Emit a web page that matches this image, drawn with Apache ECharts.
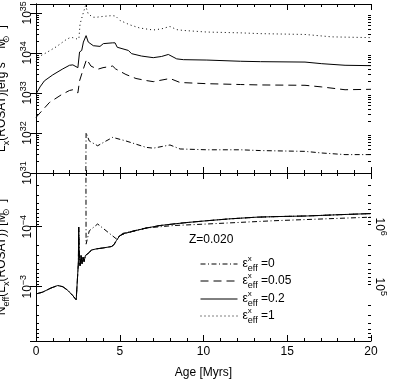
<!DOCTYPE html>
<html><head><meta charset="utf-8">
<script src="https://cdn.jsdelivr.net/npm/echarts@6/dist/echarts.min.js"></script>
<style>html,body{margin:0;padding:0;background:#fff}#c{width:397px;height:379px}</style>
</head><body><div id="c"></div>
<script>
// ---------- DATA ----------
const seriesNames = ['ε=0', 'ε=0.05', 'ε=0.2', 'ε=1'];
const xTicks = [0, 5, 10, 15, 20];

// Upper panel: Lx(ROSAT) [erg s^-1 Msun^-1]
const ageLxEff0   = [2.97, 2.99, 3.18, 3.68, 4.1, 4.58, 5.37, 6.57, 7.0, 8.0, 8.6, 10.2, 12.2, 13.4, 16.06, 17.06, 18.45, 20];
const lxEff0      = [3.16e30, 1.02e32, 6.31e31, 4.79e31, 6.03e31, 7.76e31, 6.31e31, 4.37e31, 4.17e31, 5.01e31, 3.98e31, 3.8e31, 3.8e31, 3.63e31, 3.47e31, 3.16e31, 2.88e31, 2.88e31];

const ageLxEff005 = [0, 0.8, 1.5, 2.0, 2.2, 2.5, 2.56, 2.6, 2.79, 3.02, 3.28, 3.68, 4.0, 4.58, 4.75, 5.37, 5.97, 6.57, 7.0, 8.0, 8.6, 10.2, 12.2, 13.4, 16.06, 17.06, 18.45, 20];
const lxEff005    = [2.45e32, 5.75e32, 8.91e32, 1.15e33, 1.2e33, 1.0e33, 1.0e33, 2.0e33, 3.55e33, 6.92e33, 4.68e33, 3.89e33, 4.27e33, 4.68e33, 3.98e33, 2.88e33, 2.29e33, 2.04e33, 1.91e33, 2.29e33, 1.82e33, 1.7e33, 1.62e33, 1.58e33, 1.55e33, 1.41e33, 1.2e33, 1.23e33];

const ageLxEff02  = [0, 0.24, 0.5, 1.0, 1.6, 2.0, 2.2, 2.5, 2.56, 2.6, 2.73, 2.83, 2.99, 3.12, 3.42, 3.82, 4.02, 4.3, 4.58, 4.72, 4.85, 5.51, 5.71, 6.3, 7.0, 7.5, 7.9, 8.4, 8.8, 10.2, 12.2, 13.4, 16.06, 17.06, 18.45, 20];
const lxEff02     = [9.33e32, 1.41e33, 2.0e33, 2.82e33, 3.98e33, 4.9e33, 5.01e33, 4.27e33, 4.27e33, 1.05e34, 1.15e34, 1.86e34, 2.69e34, 1.86e34, 1.51e34, 1.45e34, 1.7e34, 1.74e34, 1.78e34, 1.78e34, 1.38e34, 1.15e34, 9.55e33, 8.32e33, 7.59e33, 8.13e33, 9.12e33, 7.08e33, 6.76e33, 6.61e33, 6.17e33, 6.03e33, 5.89e33, 5.37e33, 4.9e33, 4.79e33];

const ageLxEff1   = [0, 0.24, 0.6, 1.2, 1.8, 2.03, 2.2, 2.43, 2.56, 2.63, 2.83, 2.96, 3.12, 3.4, 3.62, 4.0, 4.52, 4.75, 5.01, 5.6, 6.2, 7.0, 7.5, 8.0, 8.4, 8.8, 10.2, 12.2, 13.4, 16.06, 17.65, 20];
const lxEff1      = [6.17e33, 8.32e33, 1.0e34, 1.41e34, 2.14e34, 2.4e34, 2.4e34, 2.24e34, 2.24e34, 5.25e34, 1.02e35, 1.51e35, 9.33e34, 7.76e34, 7.76e34, 8.13e34, 8.51e34, 8.32e34, 6.46e34, 5.01e34, 4.17e34, 3.72e34, 3.98e34, 4.57e34, 3.8e34, 3.63e34, 3.31e34, 3.16e34, 3.02e34, 2.88e34, 2.51e34, 2.4e34];

// Lower panel: Neff(Lx(ROSAT)) [Msun^-1]
const ageNeffEff0 = [2.98, 2.99, 3.18, 3.68, 4.78, 5.18, 6.57, 8.2, 10.2, 14.2, 20];
const neffEff0    = [1.0e-5, 1.95e-4, 1.17e-4, 9.0e-5, 1.58e-4, 1.29e-4, 1.05e-4, 9.55e-5, 9.0e-5, 7.94e-5, 6.92e-5];

const ageNeff     = [0, 0.4, 0.9, 1.3, 1.6, 1.9, 2.2, 2.4, 2.5, 2.53, 2.55, 2.58, 2.63, 2.69, 2.75, 2.81, 2.87, 2.95, 3.03, 3.18, 3.3, 3.6, 4.0, 4.5, 4.65, 4.8, 5.0, 5.3, 5.6, 6.0, 6.6, 7.4, 8.2, 9.0, 10.2, 11.5, 13.2, 14.5, 16.2, 18.0, 20.0];
const neffEff02   = [1.32e-3, 1.23e-3, 1.05e-3, 9.55e-4, 1.0e-3, 1.15e-3, 1.41e-3, 1.66e-3, 1.62e-3, 3.98e-4, 1.02e-4, 2.51e-4, 4.47e-4, 3.02e-4, 4.17e-4, 3.24e-4, 3.8e-4, 3.02e-4, 3.24e-4, 2.69e-4, 2.45e-4, 2.34e-4, 2.26e-4, 2.14e-4, 2.0e-4, 1.7e-4, 1.41e-4, 1.29e-4, 1.23e-4, 1.15e-4, 1.05e-4, 9.55e-5, 9.0e-5, 8.51e-5, 7.94e-5, 7.41e-5, 6.92e-5, 6.76e-5, 6.61e-5, 6.31e-5, 6.03e-5];
const neffEff005  = neffEff02;  // curves coincide in the reference
const neffEff1    = neffEff02;

// axis ranges
const lxMin = 1e31, lxMax = 1.66e35;
const neffMin = 1.27e-5, neffMax = 8.04e-3;
const mMin = 1.245e4, mMax = 7.85e6;

// ---------- helpers ----------
const FONT = '"Liberation Sans", Arial, Helvetica, sans-serif';
const BLACK = '#000';
const pairs = (xs, ys) => xs.map((x, i) => [x, ys[i]]);
function minorList(lo, hi) {
  const out = [];
  for (let e = Math.floor(Math.log10(lo)) - 1; e <= Math.ceil(Math.log10(hi)); e++) {
    for (let m = 2; m <= 9; m++) { const v = m * Math.pow(10, e); if (v > lo && v < hi) out.push([0, v]); }
  }
  return out;
}
function powLabel(v) {
  const e = Math.log10(v), r = Math.round(e);
  if (Math.abs(e - r) > 1e-6) return '';
  return '{b|10}{s|' + (r < 0 ? '−' + (-r) : r) + '}';
}
const labelRich = {
  b: { fontSize: 12, fontFamily: FONT, color: BLACK, verticalAlign: 'bottom' },
  s: { fontSize: 9, fontFamily: FONT, color: BLACK, verticalAlign: 'top', padding: [0, 0, 6, 0] }
};
const nameRich = {
  n: { fontSize: 12, fontFamily: FONT, color: BLACK, lineHeight: 18 },
  sb: { fontSize: 9, fontFamily: FONT, color: BLACK, verticalAlign: 'bottom' },
  sbz: { fontSize: 9, fontFamily: FONT, color: BLACK, verticalAlign: 'bottom', width: 0 },
  sp: { fontSize: 9, fontFamily: FONT, color: BLACK, verticalAlign: 'top' }
};
const axLine = { show: true, lineStyle: { color: BLACK, width: 1 } };
function xAx(grid, pos, labels) {
  const a = {
    type: 'value', gridIndex: grid, position: pos, min: 0, max: 20, interval: 5,
    axisLine: axLine, splitLine: { show: false },
    axisTick: { show: true, inside: true, length: 6, lineStyle: { color: BLACK } },
    minorTick: { show: true, splitNumber: 5, length: 3, lineStyle: { color: BLACK } },
    axisLabel: { show: labels, margin: 5, fontSize: 12, fontFamily: FONT, color: BLACK }
  };
  if (labels) {
    a.name = 'Age [Myrs]'; a.nameLocation = 'middle'; a.nameGap = 26;
    a.nameTextStyle = { fontSize: 12, fontFamily: FONT, color: BLACK };
  }
  return a;
}
const majorTick = { show: true, inside: true, length: 6, lineStyle: { color: BLACK } };

function minorTickSeries(xi, yi, list) {
  return {
    type: 'custom', xAxisIndex: xi, yAxisIndex: yi, silent: true, data: list,
    encode: { x: 0, y: 1 },
    renderItem: function (params, api) {
      const v = api.value(1);
      const pL = api.coord([0, v]), pR = api.coord([20, v]);
      const y = Math.round(pL[1]) + 0.5;
      const st = { stroke: BLACK, lineWidth: 1 };
      return { type: 'group', children: [
        { type: 'line', shape: { x1: pL[0], y1: y, x2: pL[0] + 3, y2: y }, style: st },
        { type: 'line', shape: { x1: pR[0] - 3, y1: y, x2: pR[0], y2: y }, style: st }
      ] };
    }
  };
}
const styles = {
  'ε=0': { type: [5, 2.5, 1, 2.5] },
  'ε=0.05': { type: [8, 5] },
  'ε=0.2': { type: 'solid' },
  'ε=1': { type: [1, 3] }
};
function lineSeries(name, xi, yi, data) {
  return { name: name, type: 'line', xAxisIndex: xi, yAxisIndex: yi, data: data,
    showSymbol: false, symbol: 'none', smooth: false, silent: true,
    lineStyle: Object.assign({ color: BLACK, width: 1 }, styles[name]), itemStyle: { color: BLACK } };
}
const legendTops = [255, 272, 290, 307];
const legends = seriesNames.map((n, i) => ({
  data: [n], left: 200, top: legendTops[i], orient: 'vertical', padding: 0,
  itemWidth: 37, itemHeight: 10, selectedMode: false,
  itemStyle: { color: 'rgba(0,0,0,0)', borderColor: 'rgba(0,0,0,0)', borderWidth: 0, opacity: 0 },
  lineStyle: { width: 1 },
  formatter: nm => '{e|ε}{x|x}{f|eff}{v| ' + nm.slice(1) + '}',
  textStyle: { rich: {
    e: { fontSize: 12, fontFamily: FONT, color: BLACK, lineHeight: 18 },
    x: { fontSize: 8, fontFamily: FONT, color: BLACK, verticalAlign: 'top', width: 0 },
    f: { fontSize: 9, fontFamily: FONT, color: BLACK, verticalAlign: 'bottom' },
    v: { fontSize: 12, fontFamily: FONT, color: BLACK, lineHeight: 18 }
  } }
}));

const option = {
  animation: false,
  backgroundColor: '#fff',
  grid: [
    { left: 36, right: 26, top: 4, height: 169, outerBoundsMode: 'none', containLabel: false },
    { left: 36, right: 26, top: 173, height: 168, outerBoundsMode: 'none', containLabel: false }
  ],
  xAxis: [xAx(0, 'bottom', false), xAx(0, 'top', false), xAx(1, 'bottom', true), xAx(1, 'top', false)],
  yAxis: [
    { type: 'log', gridIndex: 0, position: 'left', min: lxMin, max: lxMax,
      axisLine: axLine, splitLine: { show: false }, axisTick: majorTick,
      axisLabel: { rotate: 90, margin: 2, formatter: powLabel, rich: labelRich },
      name: '{n|L}{sb|x}{n|(ROSAT)[erg s}{sp|−1}{n| M}{sbz|⊙}{sp|−1}{n|]}',
      nameLocation: 'middle', nameRotate: 90, nameGap: 22, nameTextStyle: { rich: nameRich } },
    { type: 'log', gridIndex: 0, position: 'right', min: lxMin, max: lxMax,
      axisLine: axLine, splitLine: { show: false }, axisTick: majorTick, axisLabel: { show: false } },
    { type: 'log', gridIndex: 1, position: 'left', inverse: true, min: neffMin, max: neffMax,
      axisLine: axLine, splitLine: { show: false }, axisTick: majorTick,
      axisLabel: { rotate: 90, margin: 2, formatter: powLabel, rich: labelRich },
      name: '{n|N}{sb|eff}{n|(L}{sb|x}{n|(ROSAT)) [M}{sbz|⊙}{sp|−1}{n|]}',
      nameLocation: 'middle', nameRotate: 90, nameGap: 22, nameTextStyle: { rich: nameRich } },
    { type: 'log', gridIndex: 1, position: 'right', min: mMin, max: mMax,
      axisLine: axLine, splitLine: { show: false }, axisTick: majorTick,
      axisLabel: { rotate: -90, margin: 2, formatter: powLabel, rich: labelRich },
      name: '{n|M}{sb|100%}{n|(L}{sb|x}{n|)}',
      nameLocation: 'middle', nameRotate: -90, nameGap: 11, nameTextStyle: { rich: nameRich } }
  ],
  legend: legends,
  graphic: [
    { type: 'text', left: 189, top: 234, silent: true,
      style: { text: 'Z=0.020', fontSize: 12, fontFamily: FONT, fill: BLACK } }
  ],
  series: [
    lineSeries('ε=0', 0, 0, pairs(ageLxEff0, lxEff0)),
    lineSeries('ε=0.05', 0, 0, pairs(ageLxEff005, lxEff005)),
    lineSeries('ε=0.2', 0, 0, pairs(ageLxEff02, lxEff02)),
    lineSeries('ε=1', 0, 0, pairs(ageLxEff1, lxEff1)),
    lineSeries('ε=0', 2, 2, pairs(ageNeffEff0, neffEff0)),
    lineSeries('ε=0.05', 2, 2, pairs(ageNeff, neffEff005)),
    lineSeries('ε=0.2', 2, 2, pairs(ageNeff, neffEff02)),
    lineSeries('ε=1', 2, 2, pairs(ageNeff, neffEff1)),
    minorTickSeries(0, 0, minorList(lxMin, lxMax)),
    minorTickSeries(2, 2, minorList(neffMin, neffMax))
  ]
};
const chart = echarts.init(document.getElementById('c'), null, { renderer: 'canvas' });
chart.setOption(option);
</script>
</body></html>
